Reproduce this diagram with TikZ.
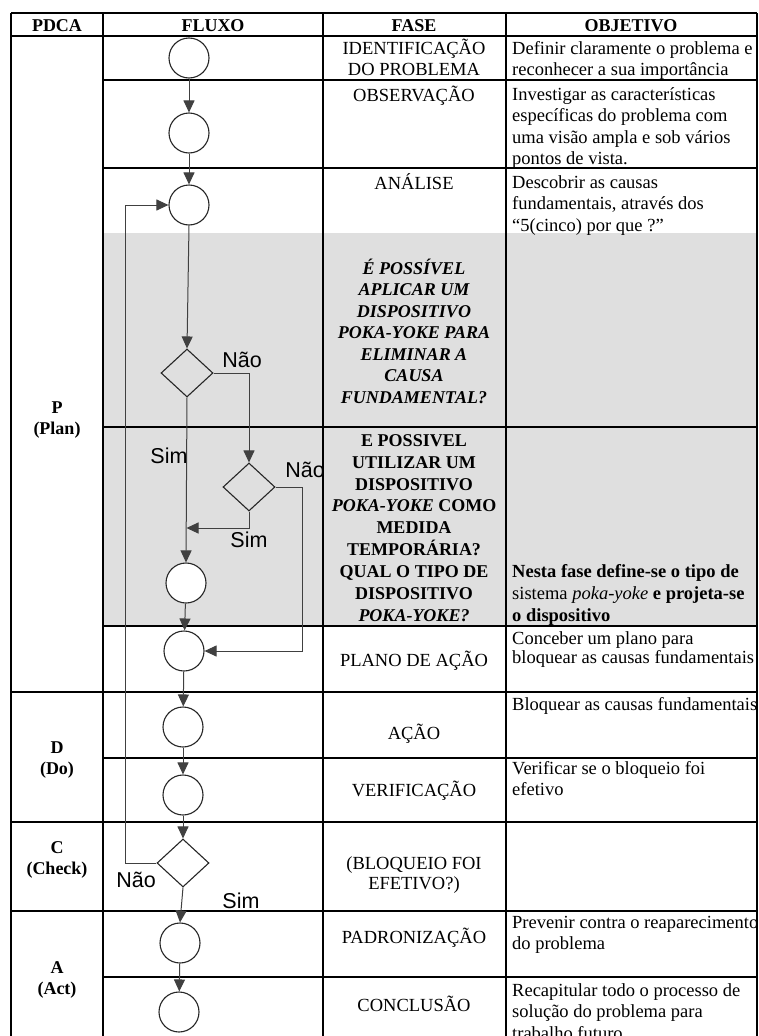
\documentclass[tikz,border=0pt]{standalone}
\usepackage{fontspec}
\setmainfont{Liberation Serif}
\newfontfamily\labfont{Liberation Sans}
\usetikzlibrary{shapes.geometric,arrows.meta}
\newcommand\tstrut{\rule{0pt}{17pt}}
\begin{document}
\begin{tikzpicture}[x=1pt,y=-1pt,
  grid/.style={line width=1.7pt,black},
  circ/.style={circle,draw=black!85,line width=1.1pt,fill=white,minimum size=40pt,inner sep=0pt},
  dia/.style={diamond,draw=black!85,line width=1.1pt,minimum width=52pt,minimum height=48pt,inner sep=0pt},
  conn/.style={draw=black!75,line width=1pt},
  arr/.style={conn,-{Triangle[length=12pt,width=11pt]}},
  lab/.style={font=\labfont\fontsize{21.5}{25}\selectfont,inner sep=0pt,anchor=base},
  txt/.style={font=\fontsize{18.5}{21.5}\selectfont,inner sep=0pt},
  hdr/.style={font=\bfseries\fontsize{18}{21.5}\selectfont,inner sep=0pt,anchor=base},
  fase/.style={txt,anchor=base},
  fasem/.style={txt,anchor=north,align=center},
  obj/.style={txt,anchor=north west,align=left},
  pdca/.style={font=\bfseries\fontsize{18}{21.5}\selectfont,inner sep=0pt,anchor=north,align=center}
]
\useasboundingbox (0,0) rectangle (759,1036);
% shading
\fill[gray!25] (103,233) rectangle (757,626);
% grid
\foreach \xx in {11,103,323,506,757} \draw[grid] (\xx,13) -- (\xx,1036);
\foreach \yy in {13,36,692,822,911} \draw[grid] (11,\yy) -- (757,\yy);
\foreach \yy in {80,168,427,626,758,977} \draw[grid] (103,\yy) -- (757,\yy);

% headers
\node[hdr] (hP) at (57,31) {PDCA};
\node[hdr] (hF) at (213,31) {FLUXO};
\node[hdr] (hS) at (414,31) {FASE};
\node[hdr] (hO) at (631,31) {OBJETIVO};

% PDCA labels
\node[pdca] (pP) at (57,396) {\tstrut P\\(Plan)};
\node[pdca] (pD) at (57,736) {\tstrut D\\(Do)};
\node[pdca] (pC) at (57,836) {\tstrut C\\(Check)};
\node[pdca] (pA) at (57,956) {\tstrut A\\(Act)};

% FASE column
\node[fasem] (fIdent) at (414,37) {\tstrut IDENTIFICAÇÃO\\DO PROBLEMA};
\node[fase] (fObs) at (414,101) {OBSERVAÇÃO};
\node[fase] (fAna) at (414,189) {ANÁLISE};
\node[fasem,font=\bfseries\itshape\fontsize{18}{21.5}\selectfont] (fQ1) at (414,257)
  {\tstrut É POSSÍVEL\\APLICAR UM\\DISPOSITIVO\\POKA-YOKE PARA\\ELIMINAR A\\CAUSA\\FUNDAMENTAL?};
\node[fasem,font=\bfseries\fontsize{18}{21.9}\selectfont] (fQ2) at (414,429)
  {\tstrut E POSSIVEL\\UTILIZAR UM\\DISPOSITIVO\\\textit{POKA-YOKE} COMO\\MEDIDA\\TEMPORÁRIA?\\QUAL O TIPO DE\\DISPOSITIVO\\\textit{POKA-YOKE?}};
\node[fase] (fPlano) at (414,666) {PLANO DE AÇÃO};
\node[fase] (fAcao) at (414,739) {AÇÃO};
\node[fase] (fVer) at (414,796) {VERIFICAÇÃO};
\node[fasem,font=\fontsize{18.5}{20}\selectfont] (fBloq) at (414,852) {\tstrut (BLOQUEIO FOI\\EFETIVO?)};
\node[fase] (fPad) at (414,943) {PADRONIZAÇÃO};
\node[fase] (fConc) at (414,1011) {CONCLUSÃO};

% OBJETIVO column
\node[obj] (oIdent) at (512,37) {\tstrut Definir claramente o problema e\\reconhecer a sua importância};
\node[obj] (oObs) at (512,83) {\tstrut Investigar as características\\específicas do problema com\\uma visão ampla e sob vários\\pontos de vista.};
\node[obj] (oAna) at (512,171) {\tstrut Descobrir as causas\\fundamentais, através dos\\“5(cinco) por que ?”};
\node[obj,font=\fontsize{18.5}{21.9}\selectfont] (oNesta) at (512,560) {\tstrut\textbf{Nesta fase define-se o tipo de}\\sistema \textit{poka-yoke} \textbf{e projeta-se}\\\textbf{o dispositivo}};
\node[obj,font=\fontsize{18.5}{19}\selectfont] (oPlano) at (512,627) {\tstrut Conceber um plano para\\bloquear as causas fundamentais};
\node[txt,anchor=base west] (oAcao) at (512,710) {Bloquear as causas fundamentais};
\node[obj] (oVer) at (512,757) {\tstrut Verificar se o bloqueio foi\\efetivo};
\node[obj] (oPad) at (512,911) {\tstrut Prevenir contra o reaparecimento\\do problema};
\node[obj] (oConc) at (512,979) {\tstrut Recapitular todo o processo de\\solução do problema para\\trabalho futuro.};

% flow nodes
\node[circ] (c1) at (189,58) {};
\node[circ] (c2) at (189,133) {};
\node[circ] (c3) at (189,205) {};
\node[dia]  (d1) at (187,373) {};
\node[dia]  (d2) at (249,487) {};
\node[circ] (c4) at (186,583) {};
\node[circ] (c5) at (184,651) {};
\node[circ] (c6) at (183,727) {};
\node[circ] (c7) at (183,795) {};
\node[dia]  (d3) at (183,863) {};
\node[circ] (c8) at (180,943) {};
\node[circ] (c9) at (179,1012) {};
\coordinate (j1) at (186.5,528);

% connectors
\draw[arr] (c1) -- (c2);
\draw[arr] (c2) -- (c3);
\draw[arr] (c3.south) -- (d1.north);
\draw[arr] (d1.east) -| (d2.north);
\draw[arr] (d1.south) -- (c4.north);
\draw[arr] (d2.south) |- (j1);
\draw[arr] (d2.east) -- ++(27,0) |- (c5.east);
\draw[arr] (c4) -- (c5);
\draw[arr] (c5) -- (c6);
\draw[arr] (c6) -- (c7);
\draw[arr] (c7.south) -- (d3.north);
\draw[arr] (d3.south) -- (c8.north);
\draw[arr] (c8) -- (c9);
\draw[arr] (d3.west) -- ++(-31,0) |- (c3.west);

% labels
\node[lab] (l1) at (242,367) {Não};
\node[lab] (l2) at (169,463) {Sim};
\node[lab] (l3) at (305,477) {Não};
\node[lab] (l4) at (249,547) {Sim};
\node[lab] (l5) at (136,887) {Não};
\node[lab] (l6) at (241,908) {Sim};
\end{tikzpicture}
\end{document}
